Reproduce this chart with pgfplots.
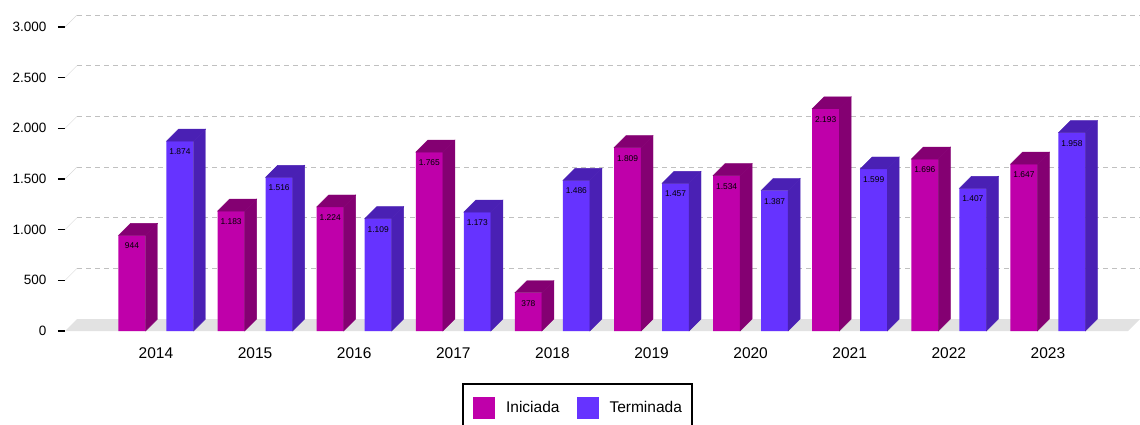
\documentclass[border=0pt]{standalone}
\usepackage{pgfplots}
\pgfplotsset{compat=1.18}
\usepackage{pgfplotstable}
\usepackage{fontspec}
\setmainfont{Liberation Sans}
\definecolor{iniF}{RGB}{191,0,170}
\definecolor{iniD}{RGB}{132,0,114}
\definecolor{terF}{RGB}{102,51,255}
\definecolor{terD}{RGB}{74,32,180}
\definecolor{floorc}{RGB}{226,226,226}
\definecolor{gridc}{RGB}{192,192,192}
\pgfdeclareplotmark{empty3d}{}
\pgfplotstableread{
x ini ter
0 944 1874
1 1183 1516
2 1224 1109
3 1765 1173
4 378 1486
5 1809 1457
6 1534 1387
7 2193 1599
8 1696 1407
9 1647 1958
}\datatable
\pgfplotsset{
  /pgf/number format/1000 sep={.},
  /pgf/number format/assume math mode=true,
  bar3d/.style n args={2}{
    only marks, scatter, mark=empty3d, forget plot,
    visualization depends on={rawy \as \val},
    scatter/@pre marker code/.code={%
      \fill[#2] ({#1-13.5pt},0pt) -- ({#1+13.5pt},0pt) -- ({#1+25.5pt},12pt) -- ({#1-1.5pt},12pt) -- cycle;
      \fill[#2] ({#1+13.5pt},0pt) -- ({#1+25.5pt},12pt)
        -- ([shift={({#1+25.5pt},12pt)}]axis direction cs:0,-\val)
        -- ([shift={({#1+13.5pt},0pt)}]axis direction cs:0,-\val) -- cycle;
    },
    scatter/@post marker code/.code={},
  },
  front/.style n args={2}{
    ybar, bar width=27pt, bar shift=#1, fill=#2, draw=none,
    nodes near coords, nodes near coords align={below},
    every node near coord/.append style={font=\fontsize{8.4}{9}\selectfont, inner sep=0pt, xshift=#1, yshift=-7.5pt, black},
    legend image code/.code={\fill[#2] (0pt,-11pt) rectangle (22pt,11pt);},
  },
}
\begin{document}
\begin{tikzpicture}
\useasboundingbox (-65pt,-93pt) rectangle (1075pt,331pt);
\begin{axis}[
  at={(0pt,0pt)}, anchor=south west,
  scale only axis, width=1063pt, height=304pt,
  xmin=-0.918, xmax=9.808, ymin=0, ymax=3000,
  clip=false,
  axis line style={draw=none},
  xtick={0,1,2,3,4,5,6,7,8,9},
  xticklabels={2014,2015,2016,2017,2018,2019,2020,2021,2022,2023},
  ytick={0,500,1000,1500,2000,2500,3000},
  ytick pos=left, tick align=outside,
  major tick length=7pt,
  ytick style={black, line width=1.6pt},
  xtick style={draw=none},
  yticklabel style={font=\fontsize{13.5}{16}\selectfont, xshift=-8pt},
  xticklabel style={font=\fontsize{15.5}{18}\selectfont, yshift=-6pt},
  legend columns=2,
  legend style={at={(0.5,0)}, anchor=north, xshift=-19pt, yshift=-52pt,
    draw=black, line width=1.5pt, font=\fontsize{15.5}{18}\selectfont,
    inner xsep=10pt, inner ysep=13pt, nodes={inner sep=0pt},
    /tikz/every odd column/.append style={column sep=11pt},
    /tikz/every even column/.append style={column sep=17pt}},
]
\fill[floorc] (axis cs:-0.918,0) -- (axis cs:9.808,0) -- ([shift={(12pt,12pt)}]axis cs:9.808,0) -- ([shift={(12pt,12pt)}]axis cs:-0.918,0) -- cycle;
\pgfplotsinvokeforeach{500,1000,1500,2000,2500,3000}{
  \draw[gridc, dash pattern=on 5pt off 4pt] ([shift={(12pt,12pt)}]axis cs:-0.918,#1) -- ([shift={(12pt,12pt)}]axis cs:9.808,#1);
  \draw[gridc!60] (axis cs:-0.918,#1) -- ++(12pt,12pt);
}
\addplot[front={-24pt}{iniF}] table[x=x,y=ini]{\datatable};
\addlegendentry{Iniciada}
\addplot[bar3d={-24pt}{iniD}] table[x=x,y=ini]{\datatable};
\addplot[front={24pt}{terF}] table[x=x,y=ter]{\datatable};
\addlegendentry{Terminada}
\addplot[bar3d={24pt}{terD}] table[x=x,y=ter]{\datatable};
\end{axis}
\end{tikzpicture}
\end{document}
